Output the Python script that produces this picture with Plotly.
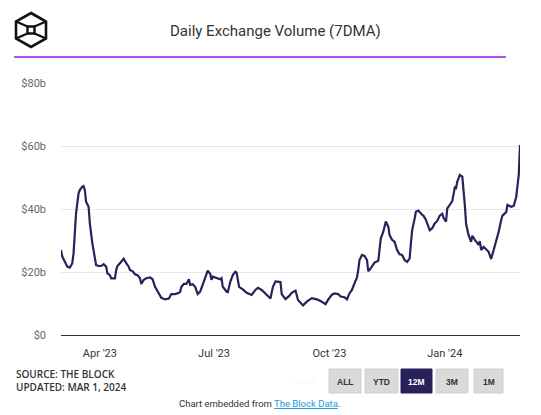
import plotly.graph_objects as go

# ---- data (values in $ billions, 7-day moving average) ----
dates = [
    "2023-03-01", "2023-03-02", "2023-03-04", "2023-03-06", "2023-03-08", "2023-03-10", "2023-03-11",
    "2023-03-12", "2023-03-13", "2023-03-15", "2023-03-16", "2023-03-18", "2023-03-19", "2023-03-20",
    "2023-03-21", "2023-03-23", "2023-03-24", "2023-03-26", "2023-03-28", "2023-03-29", "2023-03-31",
    "2023-04-02", "2023-04-04", "2023-04-06", "2023-04-07", "2023-04-09", "2023-04-10", "2023-04-13",
    "2023-04-14", "2023-04-15", "2023-04-17", "2023-04-20", "2023-04-22", "2023-04-24", "2023-04-25",
    "2023-04-27", "2023-04-29", "2023-05-01", "2023-05-03", "2023-05-04", "2023-05-06", "2023-05-08",
    "2023-05-11", "2023-05-13", "2023-05-15", "2023-05-18", "2023-05-20", "2023-05-23", "2023-05-26",
    "2023-05-28", "2023-05-31", "2023-06-03", "2023-06-04", "2023-06-05", "2023-06-07", "2023-06-09",
    "2023-06-11", "2023-06-12", "2023-06-14", "2023-06-16", "2023-06-18", "2023-06-20", "2023-06-22",
    "2023-06-24", "2023-06-26", "2023-06-28", "2023-06-29", "2023-06-30", "2023-07-03", "2023-07-06",
    "2023-07-07", "2023-07-08", "2023-07-11", "2023-07-12", "2023-07-14", "2023-07-16", "2023-07-18",
    "2023-07-19", "2023-07-21", "2023-07-24", "2023-07-27", "2023-07-31", "2023-08-03", "2023-08-05",
    "2023-08-08", "2023-08-11", "2023-08-15", "2023-08-17", "2023-08-19", "2023-08-23", "2023-08-24",
    "2023-08-27", "2023-08-30", "2023-09-01", "2023-09-04", "2023-09-06", "2023-09-10", "2023-09-13",
    "2023-09-17", "2023-09-21", "2023-09-24", "2023-09-28", "2023-09-30", "2023-10-03", "2023-10-05",
    "2023-10-08", "2023-10-10", "2023-10-13", "2023-10-15", "2023-10-17", "2023-10-19", "2023-10-21",
    "2023-10-23", "2023-10-24", "2023-10-25", "2023-10-27", "2023-10-29", "2023-10-31", "2023-11-01",
    "2023-11-02", "2023-11-04", "2023-11-06", "2023-11-09", "2023-11-10", "2023-11-11", "2023-11-13",
    "2023-11-15", "2023-11-17", "2023-11-18", "2023-11-20", "2023-11-22", "2023-11-24", "2023-11-26",
    "2023-11-28", "2023-11-30", "2023-12-02", "2023-12-04", "2023-12-05", "2023-12-06", "2023-12-08",
    "2023-12-09", "2023-12-11", "2023-12-12", "2023-12-14", "2023-12-15", "2023-12-17", "2023-12-19",
    "2023-12-20", "2023-12-22", "2023-12-24", "2023-12-26", "2023-12-28", "2023-12-30", "2023-12-31",
    "2024-01-02", "2024-01-03", "2024-01-05", "2024-01-07", "2024-01-09", "2024-01-10", "2024-01-11",
    "2024-01-13", "2024-01-15", "2024-01-16", "2024-01-17", "2024-01-18", "2024-01-20", "2024-01-22",
    "2024-01-23", "2024-01-25", "2024-01-26", "2024-01-28", "2024-01-29", "2024-01-30", "2024-02-01",
    "2024-02-03", "2024-02-05", "2024-02-07", "2024-02-09", "2024-02-11", "2024-02-13", "2024-02-15",
    "2024-02-16", "2024-02-19", "2024-02-20", "2024-02-23", "2024-02-25", "2024-02-27", "2024-02-29",
    "2024-03-01",
]
volume_b = [
    27.0, 24.9, 23.3, 21.7, 21.4, 22.8, 25.9,
    31.2, 38.6, 45.0, 46.0, 47.1, 47.3, 46.0,
    42.3, 40.7, 35.4, 29.1, 23.8, 22.2, 21.9,
    21.9, 22.5, 21.7, 19.6, 19.0, 18.0, 18.0,
    20.6, 21.9, 22.8, 24.2, 22.8, 21.7, 20.6,
    20.3, 19.3, 19.0, 18.0, 16.2, 17.5, 18.0,
    18.3, 17.7, 15.3, 13.2, 11.8, 11.3, 11.6,
    13.0, 13.0, 13.4, 13.7, 15.3, 16.2, 16.2,
    17.7, 15.9, 16.1, 15.3, 13.0, 13.8, 15.9,
    18.5, 20.4, 19.4, 17.5, 18.5, 18.0, 17.7,
    18.0, 15.3, 13.8, 13.6, 16.9, 19.0, 20.1,
    19.8, 15.3, 14.5, 13.4, 12.7, 14.3, 15.0,
    14.3, 13.0, 11.6, 15.3, 17.0, 16.8, 13.0,
    11.4, 12.4, 13.4, 14.1, 11.1, 9.4, 10.6,
    11.7, 11.3, 10.8, 9.8, 11.2, 12.8, 13.2,
    13.0, 12.2, 12.0, 11.3, 13.2, 14.3, 16.4,
    18.3, 20.6, 23.8, 25.4, 25.1, 23.8, 20.3,
    20.6, 21.7, 23.0, 23.6, 27.0, 30.7, 32.8,
    36.0, 34.4, 31.7, 30.2, 29.6, 27.0, 25.6,
    25.4, 23.8, 23.2, 24.3, 29.1, 33.3, 37.0,
    39.1, 39.5, 39.0, 38.1, 37.9, 36.5, 34.4,
    33.3, 33.9, 35.4, 36.2, 37.9, 38.5, 37.2,
    36.0, 40.2, 41.3, 42.5, 46.8, 46.6, 48.7,
    50.8, 50.3, 46.6, 41.3, 35.4, 31.7, 29.6,
    31.5, 30.2, 29.6, 28.6, 29.8, 27.0, 28.0,
    27.2, 26.4, 24.1, 27.0, 29.1, 32.8, 36.5,
    37.9, 39.0, 41.3, 40.7, 41.0, 43.9, 50.8,
    60.3,
]
values = [v * 1e9 for v in volume_b]

y_tick_vals = [0, 20e9, 40e9, 60e9, 80e9]
y_tick_text = ["$0", "$20b", "$40b", "$60b", "$80b"]
x_tick_vals = ["2023-04-01", "2023-07-01", "2023-10-01", "2024-01-01"]
x_tick_text = ["Apr '23", "Jul '23", "Oct '23", "Jan '24"]
range_buttons = ["ALL", "YTD", "12M", "3M", "1M"]
selected_button = "12M"

# ---- geometry helpers (pixel -> paper) ----
W, H = 541, 415
L, R, T, B = 61, 520, 83, 335


def px(x):
    return (x - L) / (R - L)


def py(y):
    return (B - y) / (B - T)


LINE_COLOR = "#28215a"
FONT = "Roboto, Arial, sans-serif"

fig = go.Figure()
fig.add_trace(go.Scatter(
    x=dates, y=values, mode="lines",
    line=dict(color=LINE_COLOR, width=2.2),
    hoverinfo="skip", showlegend=False,
))

shapes = []
annotations = []

# separator line under title
shapes.append(dict(type="line", xref="paper", yref="paper",
                   x0=px(14), x1=px(506), y0=py(57), y1=py(57),
                   line=dict(color="#9b19e6", width=1.5)))

# logo (hexagon cube)
hexpts = [(31, 13), (46, 21.5), (46, 38.5), (31, 47), (16, 38.5), (16, 21.5)]
path = "M " + " L ".join(f"{px(a)},{py(b)}" for a, b in hexpts) + " Z"
shapes.append(dict(type="path", xref="paper", yref="paper", path=path,
                   line=dict(color="#111", width=2.6)))
sq = [(27.5, 26.5), (34.5, 26.5), (34.5, 33.5), (27.5, 33.5)]
path = "M " + " L ".join(f"{px(a)},{py(b)}" for a, b in sq) + " Z"
shapes.append(dict(type="path", xref="paper", yref="paper", path=path,
                   line=dict(color="#111", width=2.4)))
for (a, b), (c, d) in [((16, 21.5), (27.5, 26.5)), ((46, 21.5), (34.5, 26.5)),
                       ((16, 38.5), (27.5, 33.5)), ((46, 38.5), (34.5, 33.5))]:
    shapes.append(dict(type="line", xref="paper", yref="paper",
                       x0=px(a), y0=py(b), x1=px(c), y1=py(d),
                       line=dict(color="#111", width=2.4)))

# title
annotations.append(dict(text="Daily Exchange Volume (7DMA)", xref="paper", yref="paper",
                        x=px(275), y=py(31), xanchor="center", yanchor="middle",
                        showarrow=False, font=dict(family=FONT, size=15, color="#333")))

# source text (two lines, one block)
SRC_FONT = dict(family="Open Sans, Arial, sans-serif", size=10, color="#333", weight=600)
annotations.append(dict(text="SOURCE: THE BLOCK<br>UPDATED: MAR 1, 2024", xref="paper", yref="paper",
                        x=px(14), y=py(380), xanchor="left", yanchor="middle", align="left",
                        showarrow=False, font=SRC_FONT))

# faint zoom label
annotations.append(dict(text="Zoom", xref="paper", yref="paper",
                        x=px(305), y=py(381), xanchor="center", yanchor="middle",
                        showarrow=False, font=dict(family="Arial, sans-serif", size=9, color="#f7f7f7")))

# range buttons
btn_x = [(329, 361), (365, 398), (401, 432), (436, 468), (474, 503)]
for label, (x0, x1) in zip(range_buttons, btn_x):
    sel = label == selected_button
    shapes.append(dict(type="rect", xref="paper", yref="paper",
                       x0=px(x0), x1=px(x1), y0=py(369), y1=py(393),
                       fillcolor=LINE_COLOR if sel else "#dadada",
                       line=dict(color="#d0d0d0" if not sel else LINE_COLOR, width=1)))
    annotations.append(dict(text=f"<b>{label}</b>", xref="paper", yref="paper",
                            x=px((x0 + x1) / 2), y=py(381.5), xanchor="center", yanchor="middle",
                            showarrow=False,
                            font=dict(family="Arial, sans-serif", size=8.5,
                                      color="#ffffff" if sel else "#333")))

# embed footer
annotations.append(dict(
    text='Chart embedded from <span style="color:#1a9ad6"><u>The Block Data</u></span>.',
    xref="paper", yref="paper", x=px(259), y=py(403.5), xanchor="center", yanchor="middle",
    showarrow=False, font=dict(family=FONT, size=9.5, color="#333")))

fig.update_layout(
    width=W, height=H,
    margin=dict(l=L, r=W - R, t=T, b=H - B),
    paper_bgcolor="white", plot_bgcolor="white",
    showlegend=False, hovermode=False,
    shapes=shapes, annotations=annotations,
    xaxis=dict(
        type="date", range=["2023-03-01", "2024-03-01"],
        tickvals=x_tick_vals, ticktext=x_tick_text,
        showgrid=False, zeroline=False,
        showline=True, linecolor="#333", linewidth=1.2,
        ticks="", ticklabelstandoff=8,
        tickfont=dict(family=FONT, size=11, color="#333"),
        fixedrange=True,
    ),
    yaxis=dict(
        range=[0, 80e9],
        tickvals=y_tick_vals, ticktext=y_tick_text,
        showgrid=True, gridcolor="#e8e8e8", gridwidth=1,
        zeroline=False, showline=False,
        ticks="", ticklabelstandoff=14,
        tickfont=dict(family=FONT, size=11, color="#666"),
        fixedrange=True,
    ),
)

fig.write_html(
    "out.html",
    config={"displayModeBar": False},
    post_script="document.body.style.margin='0';document.body.style.overflow='hidden';",
)
